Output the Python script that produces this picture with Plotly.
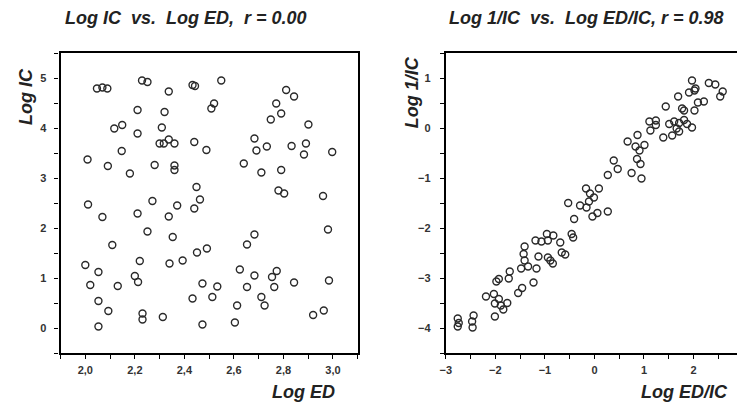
import plotly.graph_objects as go

# ---- Left panel: Log IC vs Log ED ----
log_ed = [2.047, 2.069, 2.089, 2.229, 2.251, 2.337, 2.433, 2.443, 2.549, 2.52,
          2.509, 2.211, 2.32, 2.117, 2.149, 2.211, 2.309, 2.30, 2.317, 2.337,
          2.36, 2.44, 2.489, 2.147, 2.009, 2.091, 2.18, 2.28, 2.36, 2.36,
          2.449, 2.463, 2.44, 2.371, 2.271, 2.211, 2.011, 2.069, 2.337, 2.811,
          2.843, 2.771, 2.791, 2.749, 2.901, 2.683, 2.691, 2.733, 2.833, 2.891,
          2.883, 2.997, 2.64, 2.711, 2.791, 2.78, 2.803, 2.96, 2.251, 2.353,
          2.683, 2.653, 2.98, 2.109, 2.0, 2.053, 2.02, 2.131, 2.2, 2.213,
          2.22, 2.34, 2.393, 2.451, 2.491, 2.473, 2.533, 2.513, 2.433, 2.053,
          2.093, 2.053, 2.231, 2.231, 2.313, 2.473, 2.604, 2.613, 2.624, 2.653,
          2.683, 2.711, 2.724, 2.754, 2.773, 2.763, 2.843, 2.984, 2.92, 2.963]
log_ic = [4.79, 4.81, 4.79, 4.95, 4.92, 4.73, 4.86, 4.84, 4.95, 4.49,
          4.39, 4.36, 4.32, 3.99, 4.06, 3.89, 4.01, 3.69, 3.69, 3.77,
          3.69, 3.72, 3.56, 3.54, 3.37, 3.24, 3.09, 3.26, 3.25, 3.16,
          2.82, 2.57, 2.39, 2.45, 2.54, 2.29, 2.47, 2.22, 2.23, 4.76,
          4.63, 4.49, 4.29, 4.17, 4.07, 3.79, 3.55, 3.63, 3.64, 3.69,
          3.47, 3.52, 3.29, 3.11, 3.16, 2.75, 2.69, 2.64, 1.93, 1.82,
          1.87, 1.67, 1.97, 1.66, 1.26, 1.12, 0.86, 0.84, 1.04, 0.92,
          1.34, 1.29, 1.35, 1.51, 1.59, 0.89, 0.83, 0.62, 0.59, 0.54,
          0.34, 0.03, 0.29, 0.17, 0.22, 0.07, 0.11, 0.45, 1.17, 0.82,
          1.05, 0.62, 0.45, 1.02, 1.14, 0.82, 0.91, 0.95, 0.26, 0.35]

# ---- Right panel: Log 1/IC vs Log ED/IC ----
log_ed_ic = [1.97, 2.04, 1.91, 2.02, 2.31, 2.44, 2.59, 2.54, 1.69, 1.44,
             1.77, 1.81, 2.02, 2.09, 2.21, 1.97, 1.87, 1.81, 1.71, 1.61,
             1.51, 1.66, 1.57, 1.39, 1.71, 1.11, 1.24, 1.13, 1.24, 0.87,
             0.67, 0.83, 1.01, 0.91, 0.86, 0.93, 0.75, 0.95, 0.39, 0.47,
             0.27, -0.17, -0.09, 0.09, -0.01, -0.11, -0.29, -0.53, -0.41, -0.04,
             0.06, 0.27, -0.16, -0.96, -0.83, -0.94, -1.07, -1.19, -0.69, -0.66,
             -0.59, -0.46, -0.43, -1.41, -1.43, -1.41, -1.48, -1.34, -1.17, -1.13,
             -0.94, -0.89, -0.84, -1.23, -1.46, -1.54, -1.71, -1.93, -1.98, -1.73,
             -2.19, -2.03, -1.93, -2.01, -1.89, -1.76, -1.84, -2.01, -2.76, -2.74,
             -2.76, -2.44, -2.47, -2.46]
log_1_ic = [0.95, 0.79, 0.71, 0.75, 0.90, 0.87, 0.73, 0.63, 0.63, 0.43,
            0.39, 0.35, 0.35, 0.51, 0.53, 0.01, 0.08, 0.16, 0.10, 0.13,
            0.08, -0.01, -0.15, -0.19, -0.07, 0.13, 0.15, -0.05, 0.06, -0.14,
            -0.27, -0.37, -0.34, -0.45, -0.62, -0.72, -0.90, -1.01, -0.65, -0.82,
            -0.94, -1.21, -1.31, -1.21, -1.39, -1.47, -1.55, -1.50, -1.82, -1.77,
            -1.70, -1.67, -1.59, -2.12, -2.15, -2.25, -2.27, -2.25, -2.29, -2.49,
            -2.53, -2.12, -2.19, -2.37, -2.52, -2.65, -2.81, -2.77, -2.81, -2.57,
            -2.59, -2.65, -2.71, -3.09, -3.20, -3.30, -2.87, -3.02, -3.07, -3.01,
            -3.37, -3.32, -3.42, -3.51, -3.55, -3.50, -3.63, -3.77, -3.81, -3.90,
            -3.97, -3.75, -3.87, -3.99]

FONT = "Liberation Sans"
INK = "#222222"
# page is offset by the 8px body margin; lay out in page pixels and convert
OFF = 8
W, H = 745 - OFF, 406 - OFF
def px_x(p): return (p - OFF) / W
def px_y(p): return (H - (p - OFF)) / H

marker = dict(symbol="circle-open", size=7, color="#2a2a2a",
              line=dict(width=1.4))

fig = go.Figure()
fig.add_trace(go.Scatter(x=log_ed, y=log_ic, mode="markers", marker=marker,
                         xaxis="x", yaxis="y", showlegend=False))
fig.add_trace(go.Scatter(x=log_ed_ic, y=log_1_ic, mode="markers", marker=marker,
                         xaxis="x2", yaxis="y2", showlegend=False))

def axis(rng, dom, major, minor, anchor, t0=0, fmt=None, standoff=4):
    d = dict(range=rng, domain=dom, anchor=anchor,
             showline=True, linewidth=2.2, linecolor="black", mirror=True,
             showgrid=False, zeroline=False,
             tickmode="linear", tick0=t0, dtick=major,
             ticks="outside", ticklen=4, tickwidth=1.3, tickcolor="black",
             ticklabelstandoff=standoff,
             tickfont=dict(family=FONT, size=11, color="#333333", weight="bold"),
             minor=dict(dtick=minor, ticks="outside", ticklen=4,
                        tickwidth=1.3, tickcolor="black", showgrid=False))
    if fmt:
        d["tickformat"] = fmt
    return d

fig.update_layout(
    width=W, height=H, margin=dict(l=0, r=0, t=0, b=0), showlegend=False,
    separators=",.", paper_bgcolor="white", plot_bgcolor="white",
    xaxis=axis([1.9, 3.1], [px_x(55), px_x(355)], 0.2, 0.1, "y", t0=2.0, fmt=".1f", standoff=2),
    yaxis=axis([-0.5, 5.5], [px_y(353), px_y(53)], 1, 0.5, "x", standoff=6),
    xaxis2=axis([-3, 3], [px_x(444), px_x(744)], 1, 0.5, "y2", standoff=2),
    yaxis2=axis([-4.5, 1.5], [px_y(353), px_y(53)], 1, 0.5, "x2", standoff=7),
)

def label(text, x, y, size=18, angle=0):
    fig.add_annotation(text=text, x=px_x(x), y=px_y(y), xref="paper", yref="paper",
                       showarrow=False, textangle=angle, xanchor="center", yanchor="middle",
                       font=dict(family=FONT, size=size, color=INK,
                                 weight="bold", style="italic"))

label("Log IC  vs.  Log ED,  r = 0.00", 182, 18)
label("Log 1/IC  vs.  Log ED/IC, r = 0.98", 586, 18)
label("Log IC", 20, 96, angle=-90)
label("Log 1/IC", 410, 92, angle=-90)
label("Log ED", 300, 392)
label("Log ED/IC", 685, 392)

fig.write_html("out.html")
